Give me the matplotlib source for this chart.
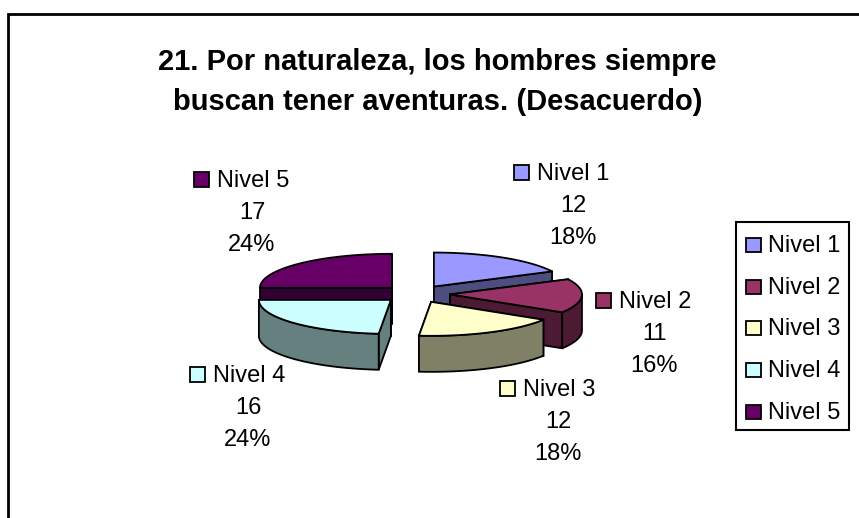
import numpy as np
import matplotlib
matplotlib.use("Agg")
import matplotlib.pyplot as plt
from matplotlib.patches import Polygon, Rectangle

plt.rcParams["font.family"] = ["Liberation Sans", "DejaVu Sans"]

categories = ["Nivel 1", "Nivel 2", "Nivel 3", "Nivel 4", "Nivel 5"]
counts = [12, 11, 12, 16, 17]
percents = ["18%", "16%", "18%", "24%", "24%"]
title_lines = ["21. Por naturaleza, los hombres siempre", "buscan tener aventuras. (Desacuerdo)"]

top_colors = ["#9999FF", "#993366", "#FFFFCC", "#CCFFFF", "#660066"]
side_colors = ["#4D4D80", "#4D1A33", "#808066", "#668080", "#330033"]

# pie geometry in pixels
CX, CY = 416, 294
RX, RY = 132, 34
DEPTH = 36
EXPLODE = 34
# back slices first so the front ones cover them
DRAW_ORDER = [4, 0, 3, 1, 2]
# left edge of key and baseline of first text line for each data label
LABEL_POS = [(514, 180), (596, 308), (500, 396), (190, 382), (194, 187)]
LABEL_CENTER = [573, 654, 558, 248, 252]
LINE_STEP = 32
FONT = 17


def rim(cx, cy, angle):
    rad = np.radians(angle)
    return cx + RX * np.sin(rad), cy - RY * np.cos(rad)


def draw_slice(ax, start, end, color, side):
    mid = np.radians((start + end) / 2)
    cx = CX + EXPLODE * np.sin(mid)
    cy = CY - EXPLODE * RY / RX * np.cos(mid)
    style = dict(edgecolor="black", linewidth=1.3, joinstyle="miter")

    # cut walls, the one further back first
    cuts = sorted([start, end], key=lambda a: rim(cx, cy, a)[1])
    for angle in cuts:
        x, y = rim(cx, cy, angle)
        wall = [(cx, cy), (x, y), (x, y + DEPTH), (cx, cy + DEPTH)]
        ax.add_patch(Polygon(wall, facecolor=side, **style))

    # outer wall, only the part of the arc facing the viewer
    low, high = max(start, 90), min(end, 270)
    if low < high:
        arc = [rim(cx, cy, a) for a in np.linspace(low, high, 50)]
        lower = [(x, y + DEPTH) for x, y in reversed(arc)]
        ax.add_patch(Polygon(arc + lower, facecolor=side, **style))

    top = [(cx, cy)] + [rim(cx, cy, a) for a in np.linspace(start, end, 80)]
    ax.add_patch(Polygon(top, facecolor=color, **style))


fig = plt.figure(figsize=(8.59, 5.18), dpi=100)
fig.patch.set_facecolor("white")
ax = fig.add_axes([0, 0, 1, 1])
ax.set_xlim(0, 859)
ax.set_ylim(518, 0)
ax.axis("off")

# chart area border, cut off at right and bottom
ax.plot([8, 8, 859], [518, 14, 14], color="black", linewidth=2, solid_joinstyle="miter")

ax.text(437, 70, title_lines[0], ha="center", va="baseline", fontsize=21, fontweight="bold")
ax.text(438, 110, title_lines[1], ha="center", va="baseline", fontsize=21, fontweight="bold")

edges = np.concatenate([[0], np.cumsum(counts)]) / sum(counts) * 360
for i in DRAW_ORDER:
    draw_slice(ax, edges[i], edges[i + 1], top_colors[i], side_colors[i])

for i, name in enumerate(categories):
    x, y = LABEL_POS[i]
    ax.add_patch(Rectangle((x, y - 15), 15, 15, facecolor=top_colors[i], edgecolor="black", linewidth=1.3))
    ax.text(x + 23, y, name, ha="left", va="baseline", fontsize=FONT)
    ax.text(LABEL_CENTER[i], y + LINE_STEP, str(counts[i]), ha="center", va="baseline", fontsize=FONT)
    ax.text(LABEL_CENTER[i], y + 2 * LINE_STEP, percents[i], ha="center", va="baseline", fontsize=FONT)

# legend
ax.add_patch(Rectangle((736, 222), 113, 208, facecolor="white", edgecolor="black", linewidth=1.5))
for i, name in enumerate(categories):
    y = 252 + i * 41.7
    ax.add_patch(Rectangle((746, y - 14), 15, 14, facecolor=top_colors[i], edgecolor="black", linewidth=1.3))
    ax.text(768, y, name, ha="left", va="baseline", fontsize=FONT)

fig.savefig("out.png", dpi=100)
plt.close(fig)
